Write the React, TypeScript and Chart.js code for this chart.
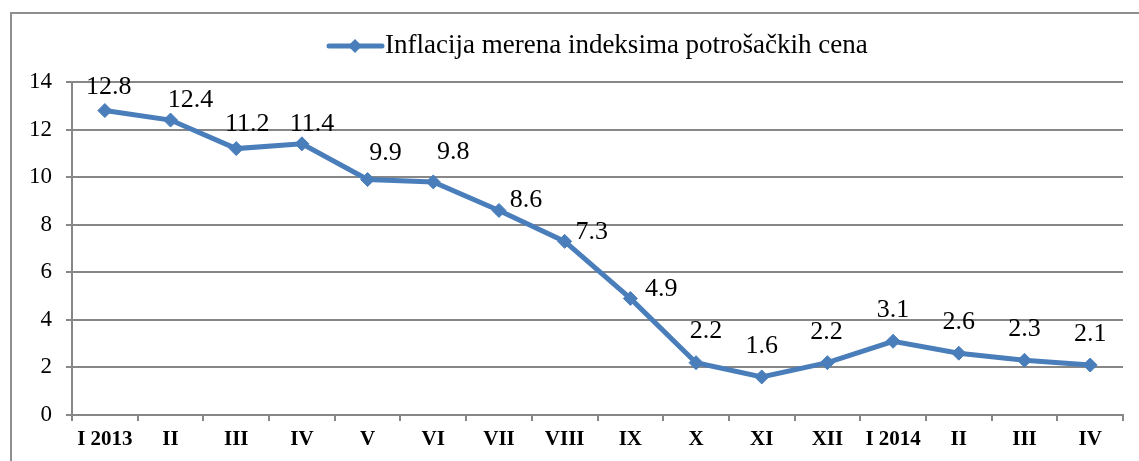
import React, { useEffect, useRef } from "react";
import { Chart, registerables } from "chart.js";

Chart.register(...registerables);

const categories: string[] = [
  "I 2013", "II", "III", "IV", "V", "VI", "VII", "VIII", "IX", "X", "XI", "XII", "I 2014", "II", "III", "IV",
];
const inflation: number[] = [12.8, 12.4, 11.2, 11.4, 9.9, 9.8, 8.6, 7.3, 4.9, 2.2, 1.6, 2.2, 3.1, 2.6, 2.3, 2.1];
const seriesLabel = "Inflacija merena indeksima potrošačkih cena";
const yTicks: number[] = [0, 2, 4, 6, 8, 10, 12, 14];

// label nudges (pixels) relative to default "above" placement
const labelDx: number[] = [4, 20, 11, 10, 18, 20, 27, 27, 31, 10, 0, -1, 0, 0, 0, 0];
const labelDy: number[] = [7, 11, 6, 11, 4, 1, 21, 22, 22, -1, 0, 0, 0, 0, 0, 0];

const SERIF = "'Liberation Serif', 'Times New Roman', serif";
const BLUE = "#4a7ebb";
const GRID = "#878787";

const decorPlugin = {
  id: "decor",
  beforeDraw(chart: any) {
    const ctx = chart.ctx;
    ctx.save();
    ctx.fillStyle = "#ffffff";
    ctx.fillRect(0, 0, chart.width, chart.height);
    ctx.strokeStyle = "#8f8f8f";
    ctx.lineWidth = 2;
    ctx.beginPath();
    ctx.moveTo(11, chart.height);
    ctx.lineTo(11, 13);
    ctx.lineTo(chart.width, 13);
    ctx.stroke();
    ctx.restore();
  },
  afterDraw(chart: any) {
    const ctx = chart.ctx;
    ctx.save();
    // legend
    const ly = 46;
    ctx.strokeStyle = BLUE;
    ctx.lineWidth = 5;
    ctx.lineCap = "round";
    ctx.beginPath();
    ctx.moveTo(329, ly);
    ctx.lineTo(382, ly);
    ctx.stroke();
    const cx = 355, r = 7;
    ctx.fillStyle = BLUE;
    ctx.beginPath();
    ctx.moveTo(cx - r, ly);
    ctx.lineTo(cx, ly - r);
    ctx.lineTo(cx + r, ly);
    ctx.lineTo(cx, ly + r);
    ctx.closePath();
    ctx.fill();
    ctx.fillStyle = "#000000";
    ctx.font = `27px ${SERIF}`;
    ctx.textAlign = "left";
    ctx.textBaseline = "middle";
    ctx.fillText(seriesLabel, 385, ly);
    // data labels
    const meta = chart.getDatasetMeta(0);
    ctx.font = `26px ${SERIF}`;
    ctx.textAlign = "center";
    ctx.textBaseline = "alphabetic";
    meta.data.forEach((pt: any, i: number) => {
      const v = inflation[i];
      ctx.fillText(v.toFixed(1), pt.x + labelDx[i], pt.y - 24 + labelDy[i]);
    });
    ctx.restore();
  },
};

export default function App() {
  const ref = useRef<HTMLCanvasElement | null>(null);
  useEffect(() => {
    if (!ref.current) return;
    const chart = new Chart(ref.current, {
      type: "line",
      data: {
        labels: categories,
        datasets: [
          {
            label: seriesLabel,
            data: inflation,
            borderColor: BLUE,
            backgroundColor: BLUE,
            borderWidth: 5,
            pointStyle: "rectRot",
            pointRadius: 7,
            pointBorderWidth: 1,
            pointBackgroundColor: BLUE,
            pointBorderColor: BLUE,
            tension: 0,
          },
        ],
      },
      options: {
        responsive: false,
        animation: false,
        events: [],
        layout: { padding: { left: 0, top: 82, right: 16, bottom: 0 } },
        plugins: { legend: { display: false }, tooltip: { enabled: false }, title: { display: false } },
        scales: {
          x: {
            type: "category",
            offset: true,
            grid: { offset: true, drawOnChartArea: false, tickLength: 6, color: GRID, lineWidth: 2 },
            border: { color: GRID, width: 2 },
            ticks: {
              color: "#000000",
              font: { family: SERIF, size: 21, weight: "bold" },
              padding: 6,
              maxRotation: 0,
              autoSkip: false,
            },
            afterFit: (s: any) => {
              s.height = 46;
            },
          },
          y: {
            min: 0,
            max: 14,
            afterBuildTicks: (s: any) => {
              s.ticks = yTicks.map((v) => ({ value: v }));
            },
            grid: { color: GRID, lineWidth: 2, tickLength: 6 },
            border: { color: GRID, width: 2 },
            ticks: {
              color: "#000000",
              font: { family: SERIF, size: 23 },
              padding: 14,
            },
            afterFit: (s: any) => {
              s.width = 72;
            },
          },
        },
      },
      plugins: [decorPlugin],
    });
    return () => chart.destroy();
  }, []);
  return (
    <div style={{ position: "absolute", left: 0, top: 0, width: 1139, height: 461, background: "#fff" }}>
      <canvas ref={ref} width={1139} height={461} style={{ display: "block", width: 1139, height: 461 }} />
    </div>
  );
}
